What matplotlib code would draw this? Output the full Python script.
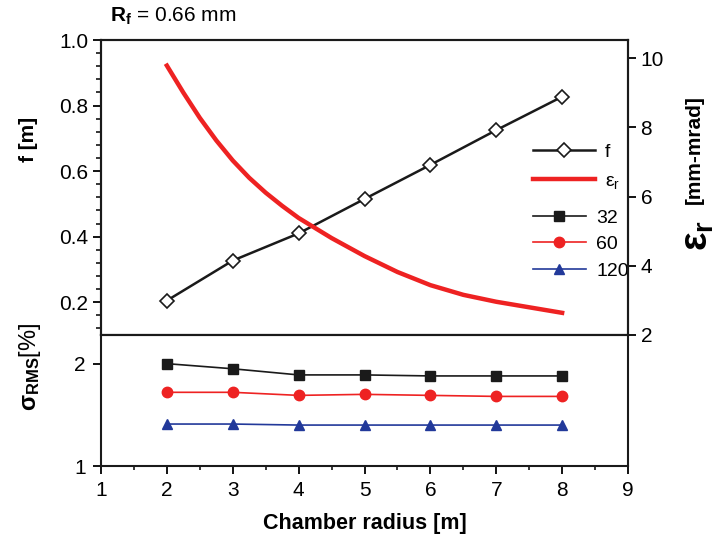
import matplotlib
matplotlib.use("Agg")
import matplotlib.pyplot as plt
from matplotlib.ticker import MultipleLocator

plt.rcParams['font.family'] = ['Liberation Sans', 'DejaVu Sans']
plt.rcParams['mathtext.fontset'] = 'custom'
plt.rcParams['mathtext.rm'] = 'Liberation Sans'
plt.rcParams['mathtext.it'] = 'Liberation Sans'
plt.rcParams['mathtext.bf'] = 'Liberation Sans:bold'

# focal length f vs chamber radius
radius = [2, 3, 4, 5, 6, 7, 8]
f_m = [0.205, 0.327, 0.410, 0.515, 0.619, 0.725, 0.827]

# emittance curve
eps_x = [2.0, 2.25, 2.5, 2.75, 3.0, 3.25, 3.5, 3.75, 4.0, 4.5, 5.0, 5.5,
         6.0, 6.5, 7.0, 7.5, 8.0]
eps_r = [9.78, 9.00, 8.27, 7.62, 7.04, 6.54, 6.11, 5.73, 5.38, 4.80, 4.28,
         3.82, 3.44, 3.16, 2.96, 2.80, 2.64]

# sigma RMS for 32 / 60 / 120
sig_32 = [2.00, 1.95, 1.89, 1.89, 1.88, 1.88, 1.88]
sig_60 = [1.72, 1.72, 1.69, 1.70, 1.69, 1.68, 1.68]
sig_120 = [1.41, 1.41, 1.40, 1.40, 1.40, 1.40, 1.40]

red = '#ee2222'
blue = '#22399a'
black = '#1a1a1a'

W, H = 717, 537
fig = plt.figure(figsize=(W/100, H/100), dpi=100)
ax = fig.add_axes([101/W, 1-335/H, 527/W, 295/H])
axb = fig.add_axes([101/W, 1-466/H, 527/W, 131/H], sharex=ax)
ax2 = ax.twinx()

for a in (ax, axb, ax2):
    for sp in a.spines.values():
        sp.set_linewidth(1.5)
        sp.set_color(black)

ln_f, = ax.plot(radius, f_m, color=black, lw=1.8, marker='D', ms=7,
                mfc='white', mec=black, mew=1.2, label='f')
ln_e, = ax2.plot(eps_x, eps_r, color=red, lw=3.2, label=r'$\mathrm{ε_r}$')
ax.set_xlim(1, 9)
ax.set_ylim(0.1, 1.0)
ax2.set_ylim(2, 10.52)

ax.set_yticks([0.2, 0.4, 0.6, 0.8, 1.0])
ax.set_yticklabels(['0.2', '0.4', '0.6', '0.8', '1.0'])
ax.yaxis.set_minor_locator(MultipleLocator(0.04))
ax.xaxis.set_major_locator(MultipleLocator(1))
ax.xaxis.set_minor_locator(MultipleLocator(0.5))
ax.tick_params(axis='y', which='major', direction='out', length=6, width=1.3,
               labelsize=15, pad=3)
ax.tick_params(axis='y', which='minor', direction='out', length=3.5, width=1.1)
ax.tick_params(axis='x', which='both', direction='out', length=4, width=1.3,
               labelbottom=False)

ax2.yaxis.set_major_locator(MultipleLocator(2))
ax2.tick_params(axis='y', direction='out', length=6, width=1.3, labelsize=15, pad=3)

l32, = axb.plot(radius, sig_32, color=black, lw=1.2, marker='s', ms=7, label='32')
l60, = axb.plot(radius, sig_60, color=red, lw=1.2, marker='o', ms=7.5, label='60')
l120, = axb.plot(radius, sig_120, color=blue, lw=1.2, marker='^', ms=7.5, label='120')
axb.set_ylim(1, 2.28)
axb.set_yticks([1, 2])
axb.set_xticks(range(1, 10))
axb.xaxis.set_minor_locator(MultipleLocator(0.5))
axb.tick_params(axis='both', which='major', direction='out', length=6, width=1.3,
                labelsize=15, pad=5)
axb.tick_params(axis='x', which='minor', direction='out', length=3, width=1.1)
axb.tick_params(axis='y', which='minor', left=False)
axb.set_xlabel('Chamber radius [m]', fontsize=15.5, fontweight='bold', labelpad=9)

# axis titles placed in figure pixels to follow the original layout
fig.text(28/W, 1-139/H, 'f [m]', rotation=90, fontsize=15,
         fontweight='bold', ha='center', va='center')
fig.text(30/W, 1-367/H, r'$\mathbf{σ_{RMS}}$[%]', rotation=90, fontsize=17,
         ha='center', va='center')
fig.text(694/W, 1-150/H, '[mm-mrad]', rotation=90, fontsize=15,
         fontweight='bold', ha='center', va='center')
fig.text(698/W, 1-235/H, r'$\mathbf{ε_r}$', rotation=90, fontsize=28,
         ha='center', va='center')

fig.text(110/W, 1-16/H, r'$\mathbf{R_f}$ = 0.66 mm', fontsize=15,
         ha='left', va='center')

leg1 = ax.legend(handles=[ln_f, ln_e], loc='center left',
                 bbox_to_anchor=(533/W, 1-167/H), bbox_transform=fig.transFigure,
                 frameon=False, fontsize=14, handlelength=3.2,
                 handletextpad=0.5, labelspacing=0.6, borderpad=0,
                 borderaxespad=0)
ax.add_artist(leg1)
ax.legend(handles=[l32, l60, l120], loc='center left',
          bbox_to_anchor=(533/W, 1-244.5/H), bbox_transform=fig.transFigure,
          frameon=False, fontsize=14, handlelength=2.7,
          handletextpad=0.55, labelspacing=0.45, borderpad=0,
          borderaxespad=0)

fig.savefig('out.png', dpi=100)
